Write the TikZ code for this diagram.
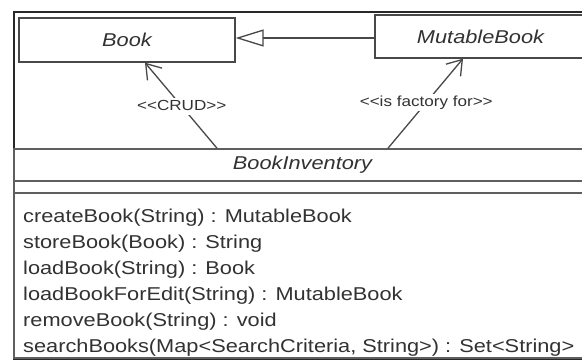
\documentclass[tikz,border=0pt]{standalone}
\usepackage{fontspec}
\setmainfont{Liberation Sans}[FakeStretch=1.17, Ligatures=TeXOff]
\usetikzlibrary{arrows.meta}

\definecolor{framecol}{RGB}{40,40,40}
\definecolor{linecol}{RGB}{72,72,72}
\definecolor{sepcol}{RGB}{95,95,95}
\definecolor{txtcol}{RGB}{50,50,50}

\tikzset{
  classname/.style={draw=linecol, line width=1.3pt, rectangle, inner sep=0pt,
    text=txtcol, font=\fontsize{18.6pt}{22pt}\selectfont\itshape},
  compartment/.style={draw=sepcol, line width=1.6pt, rectangle, inner sep=0pt,
    text=txtcol, font=\fontsize{18.6pt}{22pt}\selectfont\itshape},
  operation/.style={anchor=base west, inner sep=0pt, text=txtcol,
    font=\fontsize{18.6pt}{26pt}\selectfont},
  depend/.style={draw=linecol, line width=1.3pt,
    -{Straight Barb[length=14pt, width=19pt, line width=1.3pt]}},
  generalize/.style={draw=linecol, line width=1.3pt,
    -{Triangle[open, length=28pt, width=17pt, line width=1.3pt]}},
  stereo/.style={fill=white, text=txtcol, inner sep=1.5pt,
    text height=11pt, text depth=3pt, font=\fontsize{14.6pt}{17pt}\selectfont},
}

\begin{document}
\begin{tikzpicture}[x=1pt, y=-1pt]
  \useasboundingbox (0,0) rectangle (582,360);
  \fill[white] (0,0) rectangle (582,360);
  \clip (0,0) rectangle (582,360);

  % outer frame
  \draw[framecol, line width=2.8pt] (14,12) rectangle (592,358.5);

  % classes
  \node[classname, minimum width=216pt, minimum height=44pt] (book) at (127,40) {Book};
  \node[classname, minimum width=211pt, minimum height=43pt] (mutable) at (480.5,36.5) {MutableBook};

  % BookInventory: name, attributes and operations compartments
  \node[compartment, minimum width=577pt, minimum height=32pt] (invname) at (302.5,165) {BookInventory};
  \node[compartment, minimum width=577pt, minimum height=12pt] (invattr) at (302.5,187) {};
  \node[draw=sepcol, line width=1.6pt, rectangle, inner sep=0pt,
        minimum width=577pt, minimum height=165pt] (invops) at (302.5,275.5) {};

  \node[operation] (op1) at (23,222) {createBook(String) : MutableBook};
  \node[operation] (op2) at (23,248) {storeBook(Book) : String};
  \node[operation] (op3) at (23,274) {loadBook(String) : Book};
  \node[operation] (op4) at (23,300) {loadBookForEdit(String) : MutableBook};
  \node[operation] (op5) at (23,326) {removeBook(String) : void};
  \node[operation] (op6) at (23,352) {searchBooks(Map<SearchCriteria, String>) : Set<String>};

  % relationships
  \draw[generalize] ([yshift=-1.5pt]mutable.west) -- ([yshift=-1.5pt]mutable.west -| book.east);
  \draw[depend] ([xshift=-85.5pt]invname.north) -- node[stereo, pos=0.49] (crud) {<<CRUD>>} ([xshift=18pt]book.south);
  \draw[depend] ([xshift=85.5pt]invname.north) -- node[stereo, pos=0.51] (factory) {<<is factory for>>} ([xshift=-17.5pt]mutable.south);
\end{tikzpicture}
\end{document}
